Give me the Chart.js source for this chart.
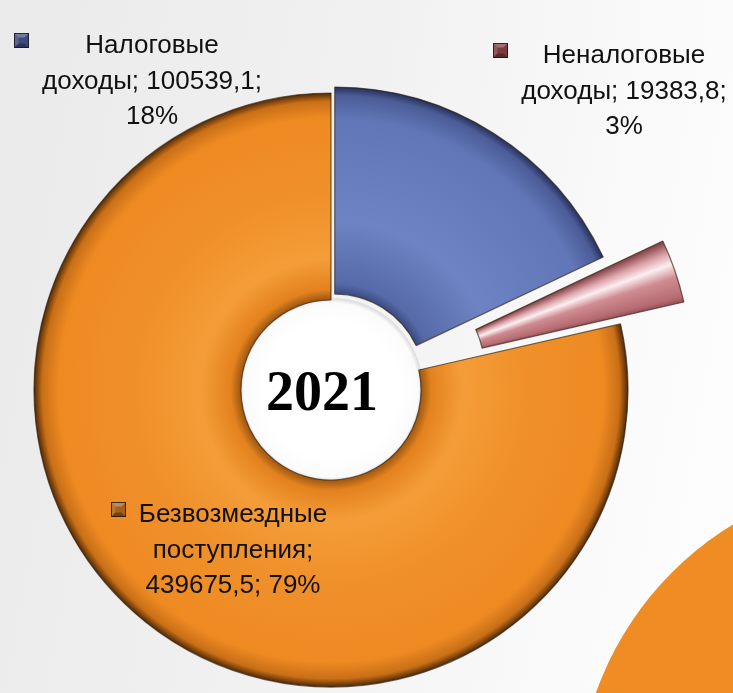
<!DOCTYPE html>
<html><head><meta charset="utf-8">
<script src="https://cdn.jsdelivr.net/npm/chart.js@4.4.1/dist/chart.umd.min.js"></script>
<style>
html,body{margin:0;padding:0;width:733px;height:693px;overflow:hidden;}
body{background:linear-gradient(100deg,#eaeaea 0%,#f1f1f1 45%,#f9f9f9 75%,#fefefe 100%);}
#wrap{position:relative;width:733px;height:693px;overflow:hidden;}
#deco{position:absolute;left:577px;top:477px;width:650px;height:650px;border-radius:50%;
 background:radial-gradient(circle at 50% 50%,#f08c24 0%,#f08c24 93%,#f5a843 96.5%,#d07818 98.8%,#3a2008 100%);}
canvas{position:absolute;left:0;top:0;}
</style></head><body>
<div id="wrap"><div id="deco"></div><canvas id="c" width="733" height="693"></canvas></div>
<script>
// ---- data ----
const categories = ['Налоговые доходы', 'Неналоговые доходы', 'Безвозмездные поступления'];
const values = [100539.1, 19383.8, 439675.5];
const centerLabel = '2021';

// ---- styles / layout ----
const OUTER = 297, INNER = 90;
const sliceBase = ['#6479b9', '#c27a80', '#f08c24'];
const sliceShift = [7, 67, 0];
const markerColors = ['#3d4b7c', '#7c3a3d', '#a65f1b'];
const radialStops = [
  [[0,'#3a4a80'],[0.05,'#566aa8'],[0.35,'#6e83c3'],[0.85,'#6176b6'],[0.96,'#4b5c98'],[1,'#26305a']],
  null,
  [[0,'#9c5612'],[0.05,'#e3821e'],[0.2,'#f49d38'],[0.5,'#f0902a'],[0.88,'#ee8a22'],[0.96,'#c96f17'],[1,'#4f2a06']]
];
const labelLayout = [{cx:152, y:53}, {cx:624, y:63}, {cx:233, y:522}];
const LABEL_FONT = '26px "Liberation Sans", Arial, sans-serif';
const LINE_H = 35.5, LABEL_MAX = 235;

const TAU = Math.PI * 2;
const total = values.reduce((a, b) => a + b, 0);
const fmt = v => v.toFixed(1).replace('.', ',');

function center(chart){ const ca = chart.chartArea; return {x:(ca.left+ca.right)/2, y:(ca.top+ca.bottom)/2}; }

function sliceFill(c){
  const chart = c.chart, i = c.dataIndex;
  if (!chart.chartArea) return sliceBase[i];
  const {x, y} = center(chart);
  const ctx = chart.ctx;
  if (radialStops[i]) {
    const g = ctx.createRadialGradient(x, y, INNER, x, y, OUTER);
    radialStops[i].forEach(([o, col]) => g.addColorStop(o, col));
    return g;
  }
  let before = 0; for (let k = 0; k < i; k++) before += values[k];
  const a0 = -Math.PI/2 + before/total*TAU - 0.02;
  const w = (values[i]/total*TAU + 0.04) / TAU;
  const g = ctx.createConicGradient(a0, x, y);
  [[0,'#6e3236'],[0.1,'#8a4a50'],[0.25,'#dba2a8'],[0.4,'#fbeef0'],[0.58,'#d08c92'],[0.85,'#b56a71'],[1,'#6e3236']]
    .forEach(([o, col]) => g.addColorStop(o*w, col));
  g.addColorStop(1, '#6e3236');
  return g;
}

class ExplodedDoughnut extends Chart.DoughnutController {
  draw(){
    const ctx = this.chart.ctx, area = this.chart.chartArea;
    this._cachedMeta.data.forEach((arc, i) => {
      const half = (arc.startAngle + arc.endAngle) / 2;
      const s = sliceShift[i] || 0;
      ctx.save();
      ctx.translate(Math.cos(half)*s, Math.sin(half)*s);
      arc.draw(ctx, area);
      ctx.restore();
    });
  }
}
ExplodedDoughnut.id = 'explodedDoughnut';
Chart.register(ExplodedDoughnut);

function wrap(ctx, text, maxW){
  const words = text.split(' '); const lines = []; let cur = '';
  words.forEach(w => {
    const t = cur ? cur + ' ' + w : w;
    if (cur && ctx.measureText(t).width > maxW) { lines.push(cur); cur = w; } else cur = t;
  });
  if (cur) lines.push(cur);
  return lines;
}

function drawMarker(ctx, x, y, s, col){
  ctx.save();
  ctx.fillStyle = col; ctx.fillRect(x, y, s, s);
  ctx.fillStyle = 'rgba(255,255,255,0.28)';
  ctx.beginPath(); ctx.moveTo(x,y); ctx.lineTo(x+s,y); ctx.lineTo(x+s*0.7,y+s*0.3); ctx.lineTo(x+s*0.3,y+s*0.3); ctx.closePath(); ctx.fill();
  ctx.fillStyle = 'rgba(255,255,255,0.15)';
  ctx.beginPath(); ctx.moveTo(x,y); ctx.lineTo(x+s*0.3,y+s*0.3); ctx.lineTo(x+s*0.3,y+s*0.7); ctx.lineTo(x,y+s); ctx.closePath(); ctx.fill();
  ctx.fillStyle = 'rgba(0,0,0,0.3)';
  ctx.beginPath(); ctx.moveTo(x,y+s); ctx.lineTo(x+s,y+s); ctx.lineTo(x+s*0.7,y+s*0.7); ctx.lineTo(x+s*0.3,y+s*0.7); ctx.closePath(); ctx.fill();
  ctx.strokeStyle = 'rgba(20,20,20,0.8)'; ctx.lineWidth = 1; ctx.strokeRect(x+0.5, y+0.5, s-1, s-1);
  ctx.restore();
}

const holePlugin = {
  id: 'hole',
  beforeDatasetsDraw(chart){
    const {x, y} = center(chart); const ctx = chart.ctx;
    const g = ctx.createRadialGradient(x, y, INNER*0.75, x, y, INNER+2);
    g.addColorStop(0, '#ffffff'); g.addColorStop(0.8, '#fbfbfb'); g.addColorStop(1, '#d9d9d9');
    ctx.save(); ctx.fillStyle = g; ctx.beginPath(); ctx.arc(x, y, INNER+2, 0, TAU); ctx.fill(); ctx.restore();
  }
};

const textPlugin = {
  id: 'texts',
  afterDatasetsDraw(chart){
    const ctx = chart.ctx; const {x, y} = center(chart);
    ctx.save();
    ctx.fillStyle = '#000'; ctx.textAlign = 'center'; ctx.textBaseline = 'alphabetic';
    ctx.font = 'bold 56px "Liberation Serif", "Times New Roman", serif';
    ctx.fillText(centerLabel, x - 9, y + 20);
    ctx.font = LABEL_FONT; ctx.fillStyle = '#111';
    categories.forEach((name, i) => {
      const pct = Math.round(values[i]/total*100) + '%';
      const lines = wrap(ctx, `${name}; ${fmt(values[i])}; ${pct}`, LABEL_MAX);
      const L = labelLayout[i];
      let maxW = 0; lines.forEach(l => { maxW = Math.max(maxW, ctx.measureText(l).width); });
      lines.forEach((l, k) => ctx.fillText(l, L.cx, L.y + k*LINE_H));
      drawMarker(ctx, Math.round(L.cx - maxW/2 - 28), L.y - 20, 15, markerColors[i]);
    });
    ctx.restore();
  }
};

new Chart(document.getElementById('c'), {
  type: 'explodedDoughnut',
  data: { labels: categories, datasets: [{ data: values, backgroundColor: sliceFill,
    borderColor: 'rgba(45,28,12,0.65)', borderWidth: 1.2, hoverOffset: 0 }] },
  options: {
    responsive: false, animation: false, events: [],
    radius: OUTER, cutout: (INNER/OUTER*100) + '%',
    layout: { padding: { left: 0, right: 71, top: 87, bottom: 0 } },
    plugins: { legend: { display: false }, tooltip: { enabled: false } }
  },
  plugins: [holePlugin, textPlugin]
});
</script>
</body></html>
